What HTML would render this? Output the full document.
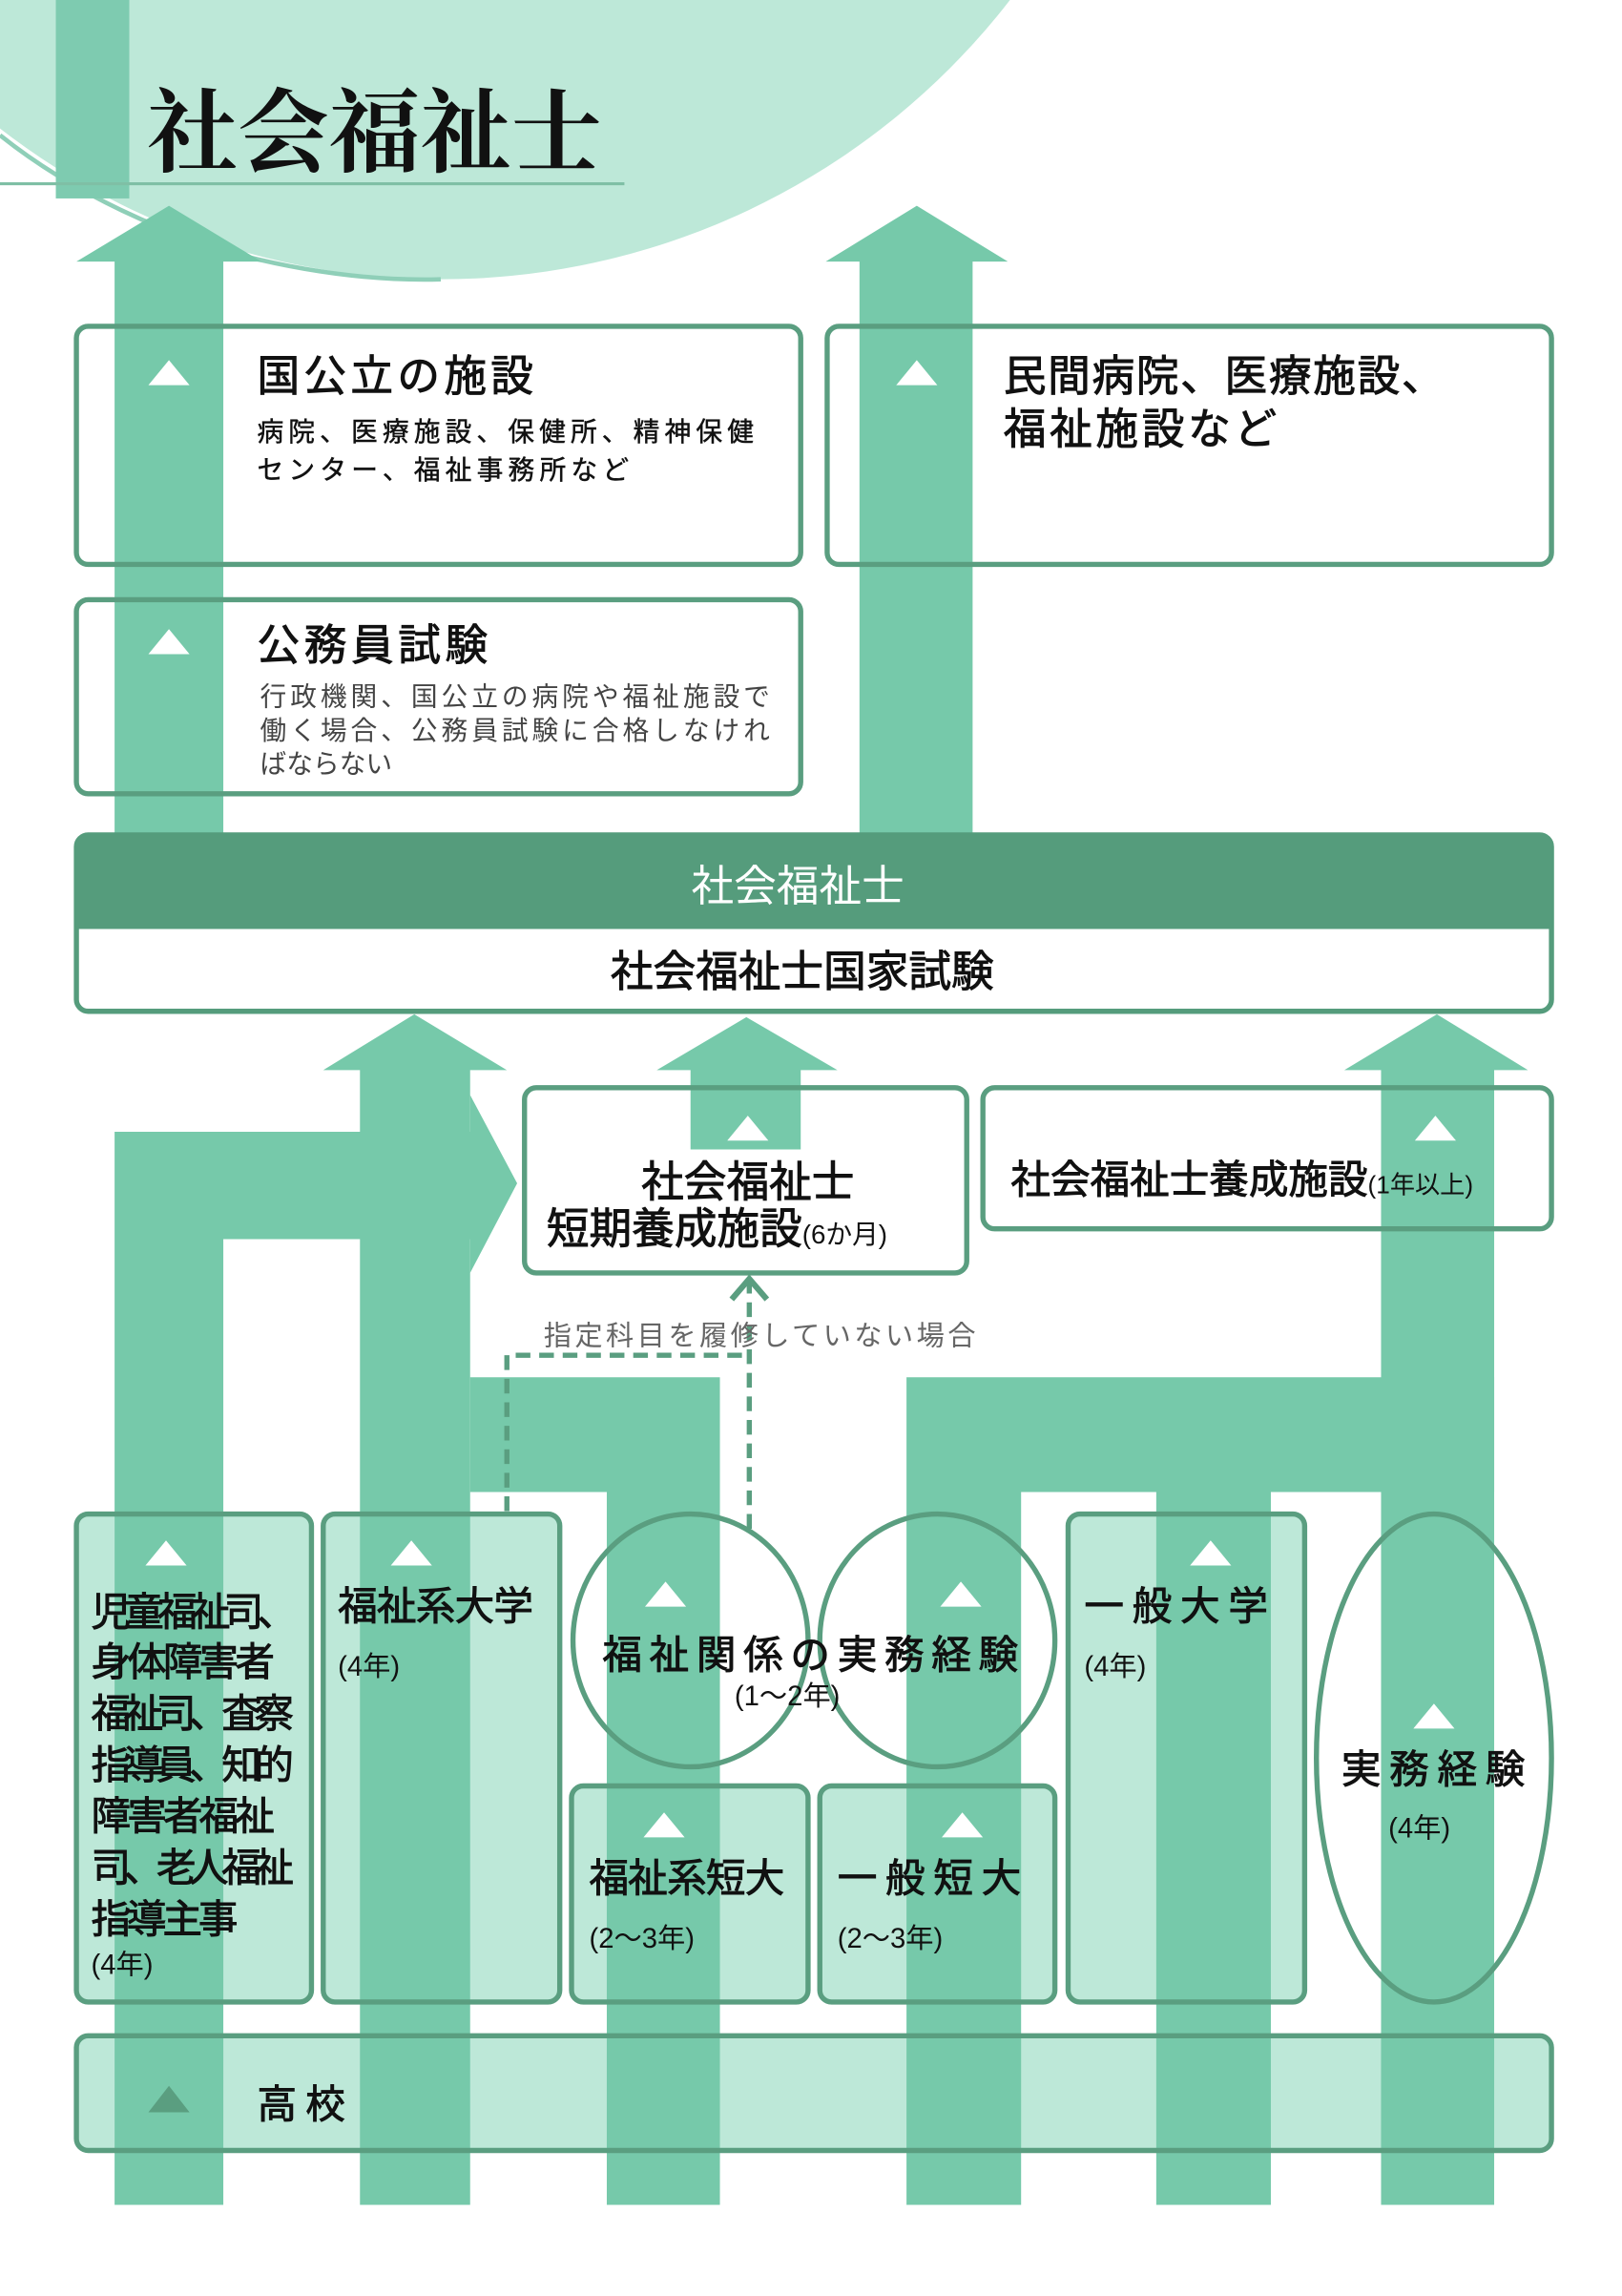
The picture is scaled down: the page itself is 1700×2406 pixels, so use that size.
<!DOCTYPE html>
<html><head><meta charset="utf-8"><style>
html,body{margin:0;padding:0;background:#fff}
svg{display:block}
text{font-family:"Liberation Sans","Noto Sans CJK JP",sans-serif}
.b{stroke:#111;stroke-width:0.6}
</style></head><body>
<svg width="1700" height="2406" viewBox="0 0 1104 1562" preserveAspectRatio="none" xmlns="http://www.w3.org/2000/svg">
<circle cx="300" cy="-300" r="490" fill="#bde8d8"/>
<path d="M0,92 Q60,140 150,170 Q230,192 300,190" fill="none" stroke="#8fcfb8" stroke-width="3"/>
<rect x="38" y="0" width="50" height="135" fill="#7ecbb0"/>
<line x1="0" y1="125" x2="425" y2="125" stroke="#7fbfa5" stroke-width="2"/>
<text x="100" y="112" font-size="62" font-weight="bold" fill="#111" style="font-family:'Liberation Serif','Noto Serif CJK SC',serif">社会福祉士</text>

<rect x="52" y="222" width="493" height="162" rx="8" fill="#fff"/>
<rect x="563" y="222" width="493" height="162" rx="8" fill="#fff"/>
<rect x="52" y="408" width="493" height="132" rx="8" fill="#fff"/>
<g fill="#bde8d8">
<rect x="52" y="1030" width="160" height="332" rx="8"/>
<rect x="220" y="1030" width="161" height="332" rx="8"/>
<rect x="389" y="1215" width="161" height="147" rx="8"/>
<rect x="558" y="1215" width="160" height="147" rx="8"/>
<rect x="727" y="1030" width="161" height="332" rx="8"/>
<rect x="52" y="1385" width="1004" height="78" rx="8"/>
</g>

<g fill="#76c9aa">
<path d="M78,570 V178 H52 L115,140 L178,178 H152 V570Z"/>
<path d="M585,570 V178 H562 L624,140 L686,178 H662 V570Z"/>
<path d="M245,1500 V728 H220 L282,690 L345,728 H320 V1500Z" />
<path d="M470,782 V728 H447 L508,692 L570,728 H545 V782Z"/>
<path d="M940,1500 V728 H915 L978,690 L1040,728 H1017 V1500Z"/>
<path d="M78,1500 V770 H320 V745 L352,805 L320,866 V843 H152 V1500Z"/>
<path d="M413,1500 V1015 H320 V937 H490 V1500Z"/>
<path d="M617,1500 V937 H1017 V1015 H865 V1500 H787 V1015 H695 V1500Z"/>
</g>

<g fill="none" stroke="#5a9e80" stroke-width="3.5">
<rect x="52" y="222" width="493" height="162" rx="8"/>
<rect x="563" y="222" width="493" height="162" rx="8"/>
<rect x="52" y="408" width="493" height="132" rx="8"/>
<rect x="357" y="740" width="301" height="126" rx="8"/>
<rect x="669" y="740" width="387" height="96" rx="8"/>
<rect x="52" y="1030" width="160" height="332" rx="8"/>
<rect x="220" y="1030" width="161" height="332" rx="8"/>
<rect x="389" y="1215" width="161" height="147" rx="8"/>
<rect x="558" y="1215" width="160" height="147" rx="8"/>
<rect x="727" y="1030" width="161" height="332" rx="8"/>
<rect x="52" y="1385" width="1004" height="78" rx="8"/>
<ellipse cx="470" cy="1116" rx="80" ry="86"/>
<ellipse cx="638" cy="1116" rx="80" ry="86"/>
<ellipse cx="976" cy="1196" rx="80" ry="166"/>
</g>
<rect x="52" y="568" width="1004" height="120" rx="8" fill="#fff" stroke="#559c7c" stroke-width="3.5"/>
<path d="M52,632 V576 Q52,568 60,568 H1048 Q1056,568 1056,576 V632Z" fill="#559c7c"/>
<text x="543" y="613" font-size="29" fill="#fff" text-anchor="middle">社会福祉士</text>
<text x="546" y="671" font-size="29" fill="#111" text-anchor="middle" class="b">社会福祉士国家試験</text>

<g fill="none" stroke="#5a9e80" stroke-width="3.5" stroke-dasharray="10,6">
<path d="M345,1028 V922 H510"/>
<path d="M510,1040 V872"/>
</g>
<path d="M498,884 L510,870 L522,884" fill="none" stroke="#5a9e80" stroke-width="4"/>
<text x="370" y="915" font-size="19" fill="#666" textLength="294">指定科目を履修していない場合</text>

<g fill="#fff">
<path d="M101,262 L115,245 L129,262Z"/>
<path d="M610,262 L624,245 L638,262Z"/>
<path d="M101,445 L115,428 L129,445Z"/>
<path d="M495,776 L509,759 L523,776Z"/>
<path d="M963,776 L977,759 L991,776Z"/>
<path d="M99,1065 L113,1048 L127,1065Z"/>
<path d="M266,1065 L280,1048 L294,1065Z"/>
<path d="M439,1093 L453,1076 L467,1093Z"/>
<path d="M640,1093 L654,1076 L668,1093Z"/>
<path d="M810,1065 L824,1048 L838,1065Z"/>
<path d="M962,1176 L976,1159 L990,1176Z"/>
<path d="M438,1250 L452,1233 L466,1250Z"/>
<path d="M641,1250 L655,1233 L669,1250Z"/>
</g>
<path d="M101,1437 L115,1419 L129,1437Z" fill="#5a9e80"/>

<g fill="#111">
<text x="175" y="266" font-size="29" class="b" textLength="188">国公立の施設</text>
<text x="175" y="300" font-size="18" class="b" textLength="338" style="stroke-width:0.3">病院、医療施設、保健所、精神保健</text>
<text x="175" y="326" font-size="18" class="b" textLength="253" style="stroke-width:0.3">センター、福祉事務所など</text>
<text x="683" y="266" font-size="29" class="b" textLength="300">民間病院、医療施設、</text>
<text x="683" y="302" font-size="29" class="b" textLength="186">福祉施設など</text>
<text x="175" y="449" font-size="29" class="b" textLength="157">公務員試験</text>
<text x="177" y="480" font-size="18" fill="#444" textLength="347">行政機関、国公立の病院や福祉施設で</text>
<text x="177" y="503" font-size="18" fill="#444" textLength="347">働く場合、公務員試験に合格しなけれ</text>
<text x="177" y="526" font-size="18" fill="#444">ばならない</text>
<text x="509" y="814" font-size="29" text-anchor="middle" class="b">社会福祉士</text>
<text x="372" y="846" font-size="29" class="b">短期養成施設<tspan font-size="18" style="stroke-width:0">(6か月)</tspan></text>
<text x="688" y="812" font-size="27" class="b">社会福祉士養成施設<tspan font-size="17" style="stroke-width:0">(1年以上)</tspan></text>
<g font-size="27" class="b">
<text x="62" y="1106" textLength="140">児童福祉司、</text>
<text x="62" y="1140" textLength="125">身体障害者</text>
<text x="62" y="1175" textLength="138">福祉司、査察</text>
<text x="62" y="1210" textLength="138">指導員、知的</text>
<text x="62" y="1245" textLength="125">障害者福祉</text>
<text x="62" y="1280" textLength="138">司、老人福祉</text>
<text x="62" y="1315" textLength="100">指導主事</text>
<text x="230" y="1102" textLength="133">福祉系大学</text>
<text x="410" y="1135" textLength="283">福祉関係の実務経験</text>
<text x="738" y="1102" textLength="125">一般大学</text>
<text x="913" y="1213" textLength="125">実務経験</text>
<text x="401" y="1287" textLength="133">福祉系短大</text>
<text x="570" y="1287" textLength="125">一般短大</text>
<text x="175" y="1441" textLength="60">高校</text>
</g>
<g font-size="19">
<text x="62" y="1343">(4年)</text>
<text x="230" y="1140">(4年)</text>
<text x="500" y="1160">(1〜2年)</text>
<text x="738" y="1140">(4年)</text>
<text x="945" y="1250">(4年)</text>
<text x="401" y="1325">(2〜3年)</text>
<text x="570" y="1325">(2〜3年)</text>
</g>
</g>
</svg>
</body></html>
